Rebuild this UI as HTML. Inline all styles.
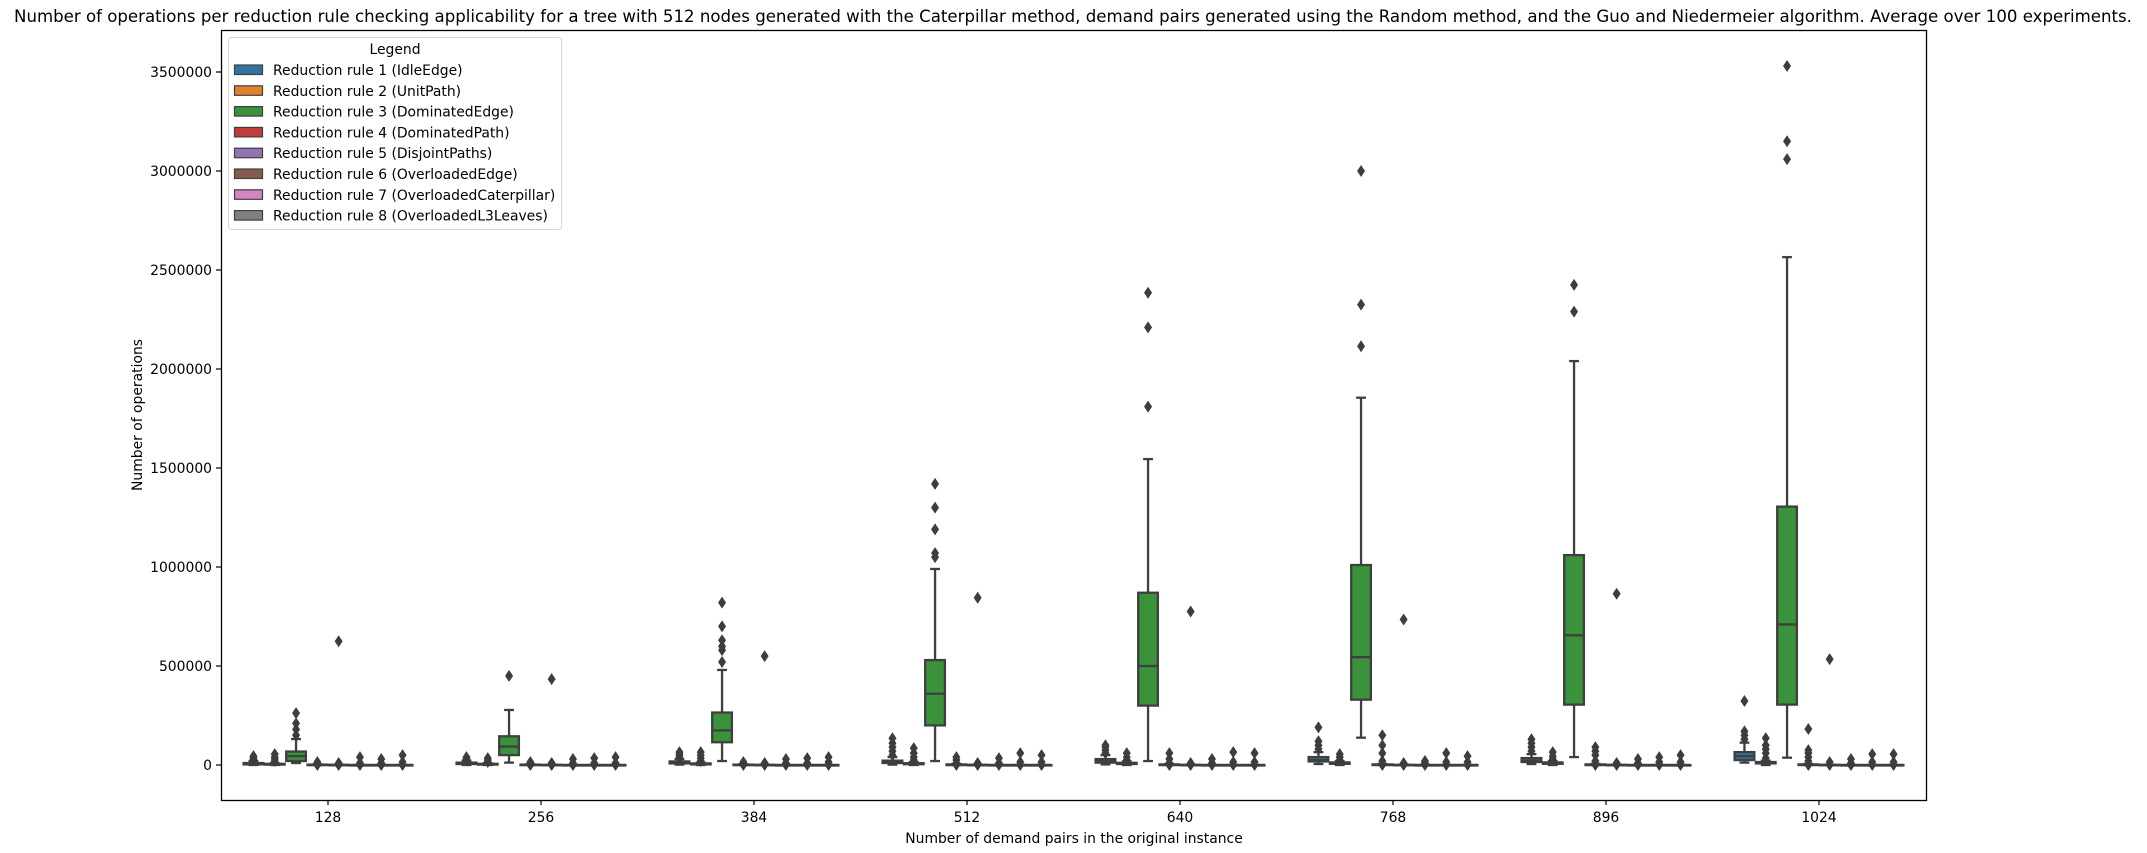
<!DOCTYPE html>
<html><head><meta charset="utf-8"><style>
html,body{margin:0;padding:0;background:#fff}
svg{display:block;font-family:"DejaVu Sans","Liberation Sans",sans-serif}
</style></head><body>
<svg id="chart" width="2147" height="853" viewBox="0 0 2147 853" xmlns="http://www.w3.org/2000/svg">
<rect x="0" y="0" width="2147" height="853" fill="#fff"/>
<text x="1073" y="22" text-anchor="middle" font-size="16.6">Number of operations per reduction rule checking applicability for a tree with 512 nodes generated with the Caterpillar method, demand pairs generated using the Random method, and the Guo and Niedermeier algorithm. Average over 100 experiments.</text>
<g id="marks"></g>
<rect x="221.5" y="30.5" width="1705" height="770" fill="none" stroke="#000" stroke-width="1.3"/>
<g id="axes"></g>
<text x="1074" y="843" text-anchor="middle" font-size="13.9">Number of demand pairs in the original instance</text>
<text transform="translate(142,415) rotate(-90)" text-anchor="middle" font-size="13.9">Number of operations</text>
<g id="legend"></g>
</svg>
<script>
const groups = [128,256,384,512,640,768,896,1024];
const ruleNames = ["Reduction rule 1 (IdleEdge)","Reduction rule 2 (UnitPath)","Reduction rule 3 (DominatedEdge)","Reduction rule 4 (DominatedPath)","Reduction rule 5 (DisjointPaths)","Reduction rule 6 (OverloadedEdge)","Reduction rule 7 (OverloadedCaterpillar)","Reduction rule 8 (OverloadedL3Leaves)"];
const yTicks = [0,500000,1000000,1500000,2000000,2500000,3000000,3500000];
const Z = [0,0,0,0,0,0,0,0];
const q1 = [
 [3000,5000,8000,10000,12000,18000,15000,25000],
 [2000,2000,3000,4000,5000,6000,6000,8000],
 [20000,50000,115000,200000,300000,330000,305000,305000],
 Z,Z,Z,Z,Z];
const med = [
 [6000,8000,12000,15000,20000,25000,22000,45000],
 [4000,4000,5000,6000,8000,9000,9000,11000],
 [45000,93000,175000,360000,500000,545000,655000,710000],
 Z,Z,Z,Z,Z];
const q3 = [
 [10000,12000,18000,22000,30000,40000,35000,65000],
 [6000,6000,8000,9000,11000,13000,13000,15000],
 [68000,145000,265000,530000,870000,1010000,1060000,1305000],
 [2000,2000,2000,3000,3000,3000,3000,3000],[1000,1000,1000,1000,1000,1000,1000,1000],Z,Z,Z];
const wlo = [
 [0,0,2000,2000,3000,5000,5000,12000],
 Z,
 [10000,12000,20000,20000,20000,138000,40000,37000],
 Z,Z,Z,Z,Z];
const whi = [
 [20000,22000,30000,40000,50000,65000,55000,113000],
 [10000,10000,12000,15000,18000,20000,20000,22000],
 [131000,278000,480000,990000,1545000,1855000,2040000,2565000],
 [4000,4000,4000,6000,6000,6000,6000,6000],[2000,2000,2000,2000,2000,2000,2000,2000],Z,Z,Z];
const outliers = [
 [[25000,30000,38000,45000],[28000,35000,40000],[35000,45000,55000,65000],[50000,70000,90000,110000,135000],[60000,75000,90000,100000],[80000,100000,120000,190000],[70000,90000,110000,130000],[130000,150000,170000,323000]],
 [[20000,30000,40000,55000],[15000,25000,35000],[20000,35000,50000,65000],[25000,40000,60000,85000],[25000,40000,60000],[25000,40000,55000],[30000,45000,65000],[35000,60000,80000,100000,136000]],
 [[150000,180000,210000,262000],[450000],[520000,580000,600000,630000,700000,820000],[1050000,1070000,1190000,1300000,1420000],[1810000,2210000,2385000],[2115000,2325000,3000000],[2290000,2425000],[3060000,3150000,3530000]],
 [[0,8000,15000],[0,8000,15000],[0,8000,15000],[0,10000,25000,40000],[0,10000,30000,60000],[0,20000,60000,100000,150000],[0,20000,50000,70000,90000],[0,20000,40000,60000,75000,182000]],
 [[0,10000,625000],[0,10000,434000],[0,10000,550000],[0,10000,845000],[0,10000,775000],[0,10000,735000],[0,10000,865000],[0,15000,535000]],
 [[0,10000,40000],[0,10000,30000],[0,10000,30000],[0,10000,35000],[0,10000,30000],[0,10000,20000],[0,10000,30000],[0,10000,30000]],
 [[0,10000,30000],[0,10000,35000],[0,10000,35000],[0,15000,60000],[0,15000,65000],[0,15000,60000],[0,15000,40000],[0,15000,55000]],
 [[0,15000,50000],[0,10000,40000],[0,15000,40000],[0,15000,50000],[0,15000,60000],[0,15000,45000],[0,15000,50000],[0,15000,55000]]
];
const colors = ["#3274a1","#e1812c","#3a923a","#c03d3e","#9372b2","#845b53","#d684bd","#7f7f7f"];
const NS="http://www.w3.org/2000/svg";
const X0=328, DX=213, BW=21.3;
function y(v){return 765 - v/500000*99;}
function xg(i){return X0+i*DX;}
function xb(i,r){return xg(i)-85.2+(r+0.5)*BW;}
function mk(tag,attrs,parent){const e=document.createElementNS(NS,tag);for(const k in attrs)e.setAttribute(k,attrs[k]);parent.appendChild(e);return e;}
const marks=document.getElementById('marks'), axes=document.getElementById('axes'), legend=document.getElementById('legend');
const ec="#3f3f3f";
groups.forEach((g,i)=>{
  for(let r=0;r<8;r++){
    const cx=xb(i,r), hw=BW/2-0.8;
    const grp=mk('g',{},marks);
    
    
    mk('line',{x1:cx,x2:cx,y1:y(q3[r][i]),y2:y(whi[r][i]),stroke:ec,'stroke-width':2.3},grp);
    mk('line',{x1:cx,x2:cx,y1:y(q1[r][i]),y2:y(wlo[r][i]),stroke:ec,'stroke-width':2.3},grp);
    mk('line',{x1:cx-hw/2,x2:cx+hw/2,y1:y(whi[r][i]),y2:y(whi[r][i]),stroke:ec,'stroke-width':2.3},grp);
    mk('line',{x1:cx-hw/2,x2:cx+hw/2,y1:y(wlo[r][i]),y2:y(wlo[r][i]),stroke:ec,'stroke-width':2.3},grp);
    const top=y(q3[r][i]), bot=y(q1[r][i]);
    mk('rect',{x:cx-hw,y:top,width:2*hw,height:Math.max(bot-top,0.5),fill:colors[r],stroke:ec,'stroke-width':2.3},grp);
    mk('line',{x1:cx-hw,x2:cx+hw,y1:y(med[r][i]),y2:y(med[r][i]),stroke:ec,'stroke-width':2.3},grp);
    outliers[r][i].forEach(v=>{
      const yy=y(v);
      const d=mk('path',{d:`M${cx} ${yy-6}L${cx+4} ${yy}L${cx} ${yy+6}L${cx-4} ${yy}Z`,fill:"#3d3d3d"},grp);
      
      
    });
  }
  const t=mk('line',{x1:xg(i),x2:xg(i),y1:800,y2:805,stroke:'#000','stroke-width':1.2},axes);
  
  
  const lb=mk('text',{x:xg(i),y:822,'text-anchor':'middle','font-size':13.9},axes);
  lb.textContent=g;
  
  
});
yTicks.forEach(v=>{
  const t=mk('line',{x1:216,x2:221,y1:y(v),y2:y(v),stroke:'#000','stroke-width':1.2},axes);
  
  
  const lb=mk('text',{x:212,y:y(v)+5,'text-anchor':'end','font-size':13.9},axes);
  lb.textContent=v;
  
  
});
const box=mk('rect',{x:228.5,y:37.5,width:333,height:192,rx:3,fill:'#fff','fill-opacity':0.8,stroke:'#d6d6d6','stroke-width':1},legend);


const lt=mk('text',{x:395,y:54,'text-anchor':'middle','font-size':13.9},legend);
lt.textContent="Legend";


ruleNames.forEach((n,r)=>{
  const yy=70+r*20.8;
  const e=mk('g',{},legend);
  
  
  mk('rect',{x:234.5,y:yy-5,width:28,height:9.5,fill:colors[r],stroke:ec,'stroke-width':1.2},e);
  const tx=mk('text',{x:273,y:yy+5,'font-size':13.9},e);
  tx.textContent=n;
});
</script>
</body></html>
